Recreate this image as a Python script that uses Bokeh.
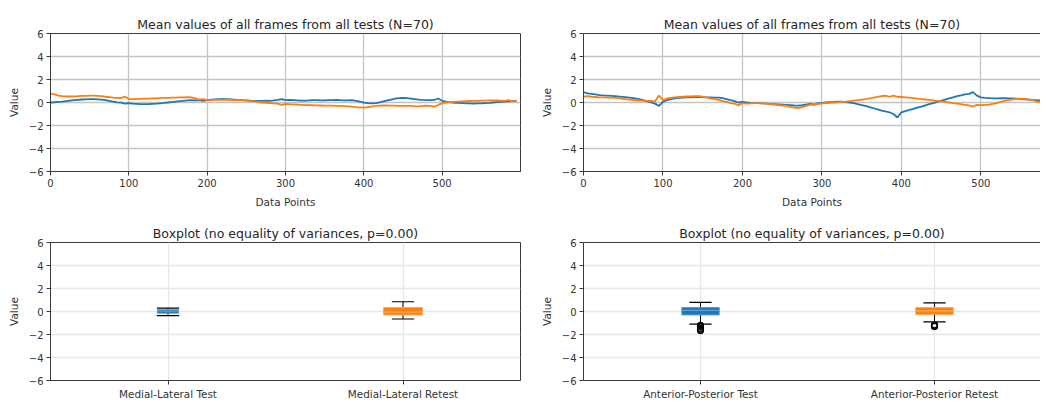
from bokeh.plotting import figure
from bokeh.layouts import column, row
from bokeh.models import FixedTicker, LinearAxis, Range1d
from bokeh.embed import file_html
from bokeh.resources import INLINE

# ---------------- data ----------------
step = 5  # sampling step of the mean curves (data points)

ml_test = [
    0.0, 0.02, 0.05, 0.08, 0.12, 0.16, 0.2, 0.23, 0.26, 0.28,
    0.3, 0.3, 0.28, 0.25, 0.2, 0.15, 0.08, 0.02, -0.02, -0.1,
    -0.05, -0.1, -0.12, -0.14, -0.15, -0.14, -0.12, -0.1, -0.07, -0.04,
    0.0, 0.04, 0.08, 0.12, 0.15, 0.18, 0.2, 0.18, 0.2, 0.14,
    0.2, 0.24, 0.28, 0.3, 0.32, 0.3, 0.28, 0.25, 0.22, 0.2,
    0.18, 0.16, 0.15, 0.14, 0.15, 0.16, 0.15, 0.18, 0.22, 0.3,
    0.2, 0.22, 0.2, 0.18, 0.16, 0.17, 0.18, 0.2, 0.2, 0.19,
    0.18, 0.2, 0.2, 0.22, 0.2, 0.19, 0.18, 0.2, 0.15, 0.08,
    -0.02, -0.06, -0.08, -0.05, 0.02, 0.1, 0.18, 0.26, 0.33, 0.38,
    0.4, 0.38, 0.34, 0.3, 0.25, 0.22, 0.2, 0.2, 0.22, 0.35,
    0.15, 0.08, 0.02, -0.02, -0.04, -0.06, -0.08, -0.08, -0.09, -0.08,
    -0.08, -0.06, -0.04, 0.0, 0.03, 0.06, 0.08, 0.1, 0.12, 0.14,
]
ml_retest = [
    0.78, 0.7, 0.6, 0.55, 0.52, 0.52, 0.54, 0.55, 0.57, 0.58,
    0.6, 0.6, 0.58, 0.55, 0.5, 0.46, 0.42, 0.4, 0.38, 0.52,
    0.3, 0.3, 0.3, 0.32, 0.33, 0.34, 0.35, 0.36, 0.38, 0.4,
    0.4, 0.42, 0.43, 0.44, 0.45, 0.47, 0.45, 0.35, 0.25, 0.3,
    0.2, 0.22, 0.22, 0.22, 0.24, 0.24, 0.22, 0.2, 0.2, 0.18,
    0.16, 0.12, 0.1, 0.05, 0.0, -0.02, -0.05, -0.08, -0.1, -0.2,
    -0.13, -0.15, -0.16, -0.18, -0.2, -0.22, -0.22, -0.24, -0.25, -0.26,
    -0.27, -0.28, -0.28, -0.3, -0.3, -0.32, -0.34, -0.36, -0.4, -0.42,
    -0.45, -0.4, -0.35, -0.3, -0.27, -0.26, -0.26, -0.27, -0.28, -0.3,
    -0.3, -0.3, -0.3, -0.32, -0.33, -0.3, -0.28, -0.3, -0.36, -0.22,
    -0.05, 0.0, 0.04, 0.06, 0.08, 0.1, 0.12, 0.13, 0.14, 0.15,
    0.16, 0.17, 0.18, 0.19, 0.18, 0.17, 0.15, 0.2, 0.1, 0.12,
]
ap_test = [
    0.9, 0.8, 0.75, 0.7, 0.65, 0.62, 0.6, 0.58, 0.56, 0.52,
    0.48, 0.44, 0.4, 0.35, 0.3, 0.2, 0.1, 0.0, -0.1, -0.3,
    0.05, 0.2, 0.3, 0.36, 0.4, 0.42, 0.44, 0.45, 0.46, 0.47,
    0.46, 0.45, 0.44, 0.43, 0.42, 0.38, 0.3, 0.2, 0.12, 0.0,
    0.05, 0.0, -0.03, -0.05, -0.06, -0.08, -0.1, -0.12, -0.14, -0.16,
    -0.18, -0.2, -0.23, -0.26, -0.27, -0.24, -0.18, -0.12, -0.2, -0.05,
    -0.05, 0.0, 0.04, 0.06, 0.07, 0.07, 0.04, 0.0, -0.06, -0.15,
    -0.22, -0.3, -0.4, -0.5, -0.6, -0.7, -0.78, -0.85, -1.0, -1.3,
    -0.85, -0.75, -0.65, -0.55, -0.45, -0.35, -0.25, -0.15, -0.05, 0.05,
    0.15, 0.25, 0.35, 0.45, 0.55, 0.62, 0.7, 0.75, 0.9, 0.6,
    0.45, 0.4, 0.38, 0.36, 0.36, 0.37, 0.37, 0.36, 0.35, 0.33,
    0.3, 0.28, 0.25, 0.22, 0.2, 0.18, 0.2, 0.22, 0.2, 0.25,
]
ap_retest = [
    0.5, 0.55, 0.5, 0.48, 0.45, 0.44, 0.43, 0.42, 0.4, 0.36,
    0.32, 0.28, 0.24, 0.2, 0.18, 0.16, 0.14, 0.15, 0.1, 0.6,
    0.2, 0.35, 0.4, 0.45, 0.48, 0.5, 0.52, 0.54, 0.56, 0.56,
    0.5, 0.42, 0.35, 0.3, 0.22, 0.12, 0.05, -0.05, -0.1, -0.25,
    -0.05, -0.1, -0.08, -0.05, -0.06, -0.08, -0.1, -0.14, -0.18, -0.22,
    -0.26, -0.3, -0.38, -0.45, -0.48, -0.4, -0.3, -0.2, -0.12, -0.15,
    -0.08, -0.05, -0.02, 0.0, 0.02, 0.05, 0.08, 0.12, 0.16, 0.2,
    0.25, 0.3, 0.36, 0.42, 0.48, 0.55, 0.6, 0.5, 0.6, 0.5,
    0.48, 0.45, 0.42, 0.38, 0.34, 0.3, 0.26, 0.22, 0.18, 0.14,
    0.1, 0.05, 0.0, -0.05, -0.1, -0.15, -0.2, -0.25, -0.35, -0.2,
    -0.22, -0.2, -0.18, -0.12, -0.05, 0.05, 0.15, 0.22, 0.28, 0.32,
    0.34, 0.32, 0.28, 0.2, 0.1, 0.0, -0.15, -0.3, -0.45, -0.55,
]

ml_categories = ["Medial-Lateral Test", "Medial-Lateral Retest"]
ap_categories = ["Anterior-Posterior Test", "Anterior-Posterior Retest"]

# box statistics: q1, median, q3, lower whisker, upper whisker, outliers
ml_q1 = [-0.15, -0.3]
ml_median = [0.03, -0.05]
ml_q3 = [0.15, 0.35]
ml_low = [-0.35, -0.65]
ml_high = [0.3, 0.85]
ml_outliers = [[], []]

ap_q1 = [-0.3, -0.25]
ap_median = [0.1, 0.05]
ap_q3 = [0.35, 0.35]
ap_low = [-1.1, -0.9]
ap_high = [0.8, 0.75]
ap_outliers = [[-1.2, -1.3, -1.45, -1.55, -1.65], [-1.15, -1.25, -1.3]]

y_ticks = [-6, -4, -2, 0, 2, 4, 6]
x_ticks_line = [0, 100, 200, 300, 400, 500]

# ---------------- style ----------------
BLUE = "#1f77b4"
ORANGE = "#ff7f0e"
BLUE_EDGE = "#5b9bd0"
ORANGE_EDGE = "#ffa75a"
FONT = "DejaVu Sans"
AX = "#3a3a3a"
TXT = "#333333"

LEFT_W, RIGHT_W = 536, 504
TOP_H, BOT_H = 210, 192


def base_fig(width, height, x_range, title, right_side, top_border, bottom_border, grid_color):
    p = figure(width=width, height=height, x_range=x_range, y_range=Range1d(-6, 6),
               output_backend="svg", toolbar_location=None,
               min_border_left=47 if right_side else 50, min_border_right=0 if right_side else 16,
               min_border_top=top_border, min_border_bottom=bottom_border)
    p.title.text = title
    p.title.text_font = FONT
    p.title.text_font_size = "12.5px"
    p.title.text_font_style = "normal"
    p.title.text_color = "#262626"
    p.title.align = "center"
    p.title.standoff = 4
    p.background_fill_color = "white"
    p.border_fill_color = "white"
    xa = p.below[0]
    ya = p.left[0]
    for ax in [xa, ya]:
        ax.axis_line_color = AX
        ax.axis_line_width = 1
        ax.major_tick_line_color = AX
        ax.major_tick_out = 4
        ax.major_tick_in = 0
        ax.minor_tick_line_color = None
        ax.major_label_text_font = FONT
        ax.major_label_text_font_size = "10px"
        ax.major_label_text_color = TXT
        ax.axis_label_text_font = FONT
        ax.axis_label_text_font_size = "10.5px"
        ax.axis_label_text_font_style = "normal"
        ax.axis_label_text_color = TXT
        ax.major_label_standoff = 3
        ax.axis_label_standoff = 6
    ya.ticker = FixedTicker(ticks=y_ticks)
    ya.major_label_overrides = {t: ("\u2212" + str(abs(t)) if t < 0 else str(t)) for t in y_ticks}
    ya.axis_label = "Value"
    p.grid.grid_line_color = grid_color
    p.grid.grid_line_width = 1.3
    if right_side:
        p.title.offset = 5
        p.outline_line_color = None
        top = LinearAxis(ticker=FixedTicker(ticks=[]), axis_line_color=AX, axis_line_width=1,
                         major_tick_line_color=None, minor_tick_line_color=None,
                         major_label_text_font_size="0px", major_label_standoff=0)
        p.add_layout(top, "above")
    else:
        p.outline_line_color = AX
        p.outline_line_width = 1
        p.outline_line_alpha = 1
    return p, xa


def line_fig(width, xr_end, right_side, a, b):
    p, xa = base_fig(width, TOP_H, Range1d(0, xr_end), "Mean values of all frames from all tests (N=70)",
                     right_side, 33, 38, "#c4c4c4")
    xa.ticker = FixedTicker(ticks=x_ticks_line)
    xa.axis_label = "Data Points"
    xs = list(range(0, step * len(a), step))
    p.line(xs, a, line_color=BLUE, line_width=1.8)
    p.line(xs, b, line_color=ORANGE, line_width=1.8)
    return p


def box_fig(width, xr_end, right_side, cats, q1, med, q3, lo, hi, outl, widths):
    p, xa = base_fig(width, BOT_H, Range1d(0.5, xr_end), "Boxplot (no equality of variances, p=0.00)",
                     right_side, 32, 20, "#e6e6e6")
    pos = [i + 1 for i in range(len(cats))]
    xa.ticker = FixedTicker(ticks=pos)
    xa.major_label_overrides = {x: c for x, c in zip(pos, cats)}
    xa.major_label_text_font_size = "10.4px"
    cap = 0.095
    fills = [BLUE, ORANGE]
    edges = [BLUE_EDGE, ORANGE_EDGE]
    # whiskers
    p.segment(x0=pos, y0=q3, x1=pos, y1=hi, line_color="black", line_width=1)
    p.segment(x0=pos, y0=q1, x1=pos, y1=lo, line_color="black", line_width=1)
    p.segment(x0=[x - cap / 2 for x in pos], y0=hi, x1=[x + cap / 2 for x in pos], y1=hi,
              line_color="black", line_width=1.2)
    p.segment(x0=[x - cap / 2 for x in pos], y0=lo, x1=[x + cap / 2 for x in pos], y1=lo,
              line_color="black", line_width=1.2)
    # boxes
    p.quad(left=[x - w / 2 for x, w in zip(pos, widths)], right=[x + w / 2 for x, w in zip(pos, widths)],
           bottom=q1, top=q3, fill_color=fills, line_color=edges, line_width=1)
    p.segment(x0=[x - w / 2 for x, w in zip(pos, widths)], y0=med,
              x1=[x + w / 2 for x, w in zip(pos, widths)], y1=med,
              line_color=edges, line_width=1.2)
    ox, oy = [], []
    for x, vals in zip(pos, outl):
        for v in vals:
            ox.append(x)
            oy.append(v)
    if ox:
        p.scatter(ox, oy, marker="circle", size=6, fill_color=None, line_color="black", line_width=1.2)
    return p


p1 = line_fig(LEFT_W, 600, False, ml_test, ml_retest)
p2 = line_fig(RIGHT_W, 575, True, ap_test, ap_retest)
p3 = box_fig(LEFT_W, 2.5, False, ml_categories, ml_q1, ml_median, ml_q3, ml_low, ml_high, ml_outliers,
             [0.09, 0.165])
p4 = box_fig(RIGHT_W, 2.453, True, ap_categories, ap_q1, ap_median, ap_q3, ap_low, ap_high, ap_outliers,
             [0.16, 0.16])

layout = column(row(p1, p2), row(p3, p4))
open("out.html", "w").write(file_html(layout, INLINE))
